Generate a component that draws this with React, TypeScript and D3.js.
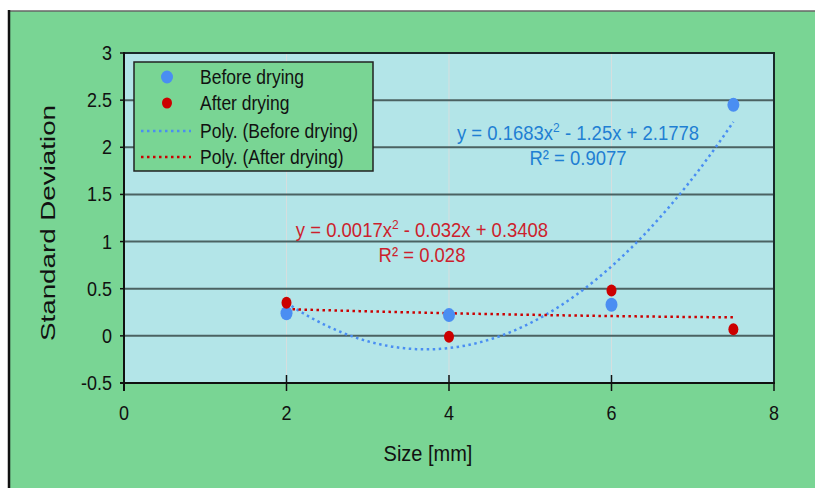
import React, { useEffect, useRef } from 'react';
import * as d3 from 'd3';

const sizes = [2, 4, 6, 7.5];
const beforeDrying = [0.24, 0.22, 0.33, 2.45];
const afterDrying = [0.35, -0.01, 0.48, 0.07];
const beforeCoef = [0.1683, -1.25, 2.1778];
const afterCoef = [0.0017, -0.032, 0.3408];
const xTicks = [0, 2, 4, 6, 8];
const yTicks = [-0.5, 0, 0.5, 1, 1.5, 2, 2.5, 3];
const legendLabels = ['Before drying', 'After drying', 'Poly. (Before drying)', 'Poly. (After drying)'];

const W = 815;
const H = 488;
const green = '#79d594';
const cyan = '#b3e5e8';
const blue = '#4a8ef2';
const red = '#cc0000';
const font = 'Liberation Sans, Arial, sans-serif';
const stretch = 1.12; // text in the picture looks a bit taller than wide

export default function App() {
  const ref = useRef<SVGSVGElement>(null);

  useEffect(() => {
    const svg = d3.select(ref.current);
    svg.selectAll('*').remove();

    const left = 124, right = 774, top = 53, bottom = 383;
    const x = d3.scaleLinear().domain([0, 8]).range([left, right]);
    const y = d3.scaleLinear().domain([-0.5, 3]).range([bottom, top]);
    const at = (px: number, py: number) => `translate(${px},${py}) scale(1,${stretch})`;

    // outer frame
    svg.append('rect').attr('x', 9).attr('y', 11).attr('width', W).attr('height', H).attr('fill', green);
    svg.append('line').attr('x1', 9).attr('x2', W).attr('y1', 11).attr('y2', 11)
      .attr('stroke', '#666').attr('stroke-width', 1.5);
    svg.append('line').attr('x1', 9).attr('x2', 9).attr('y1', 10).attr('y2', H)
      .attr('stroke', '#111').attr('stroke-width', 2.5);

    // plot area
    svg.append('rect').attr('x', left).attr('y', top).attr('width', right - left).attr('height', bottom - top)
      .attr('fill', cyan);

    // vertical grid
    svg.append('g').selectAll('line').data(xTicks.slice(1, -1)).join('line')
      .attr('x1', d => x(d)).attr('x2', d => x(d)).attr('y1', top).attr('y2', bottom)
      .attr('stroke', '#d6dede').attr('stroke-width', 1);

    // horizontal grid
    svg.append('g').selectAll('line').data(yTicks.slice(1, -1)).join('line')
      .attr('x1', left).attr('x2', right).attr('y1', d => y(d)).attr('y2', d => y(d))
      .attr('stroke', '#4b6262').attr('stroke-width', 2);

    // border
    svg.append('rect').attr('x', left).attr('y', top).attr('width', right - left).attr('height', bottom - top)
      .attr('fill', 'none').attr('stroke', '#1a2a2a').attr('stroke-width', 2);

    // y axis ticks and labels
    const yAx = svg.append('g');
    yAx.selectAll('line').data(yTicks).join('line')
      .attr('x1', left - 4).attr('x2', left).attr('y1', d => y(d)).attr('y2', d => y(d))
      .attr('stroke', '#111').attr('stroke-width', 1.5);
    yAx.selectAll('text').data(yTicks).join('text')
      .attr('transform', d => at(112, y(d) + 7)).attr('text-anchor', 'end')
      .attr('font-family', font).attr('font-size', 18).attr('fill', '#111')
      .text(d => String(d));
    svg.append('line').attr('x1', left).attr('x2', left).attr('y1', top - 1).attr('y2', bottom + 8)
      .attr('stroke', '#111').attr('stroke-width', 2);

    // x axis ticks and labels
    const xAx = svg.append('g');
    xAx.selectAll('line').data(xTicks).join('line')
      .attr('x1', d => x(d)).attr('x2', d => x(d))
      .attr('y1', (d, i) => (i === 0 || i === xTicks.length - 1 ? bottom : bottom - 8)).attr('y2', bottom + 8)
      .attr('stroke', '#111').attr('stroke-width', 1.5);
    xAx.selectAll('text').data(xTicks).join('text')
      .attr('transform', d => at(x(d), 420)).attr('text-anchor', 'middle')
      .attr('font-family', font).attr('font-size', 18).attr('fill', '#111')
      .text(d => String(d));
    svg.append('line').attr('x1', left - 4).attr('x2', right + 1).attr('y1', bottom).attr('y2', bottom)
      .attr('stroke', '#111').attr('stroke-width', 2);

    // axis titles
    svg.append('text').attr('transform', `translate(55,223) rotate(-90)`)
      .attr('text-anchor', 'middle').attr('font-family', font).attr('font-size', 21).attr('fill', '#111')
      .attr('textLength', 236).attr('lengthAdjust', 'spacingAndGlyphs')
      .text('Standard Deviation');
    svg.append('text').attr('transform', at(428, 461)).attr('text-anchor', 'middle')
      .attr('font-family', font).attr('font-size', 20).attr('fill', '#111')
      .text('Size [mm]');

    // trendlines
    const poly = (c: number[]) => (t: number) => c[0] * t * t + c[1] * t + c[2];
    const xs = d3.range(sizes[0], sizes[sizes.length - 1] + 0.001, 0.05);
    const line = d3.line<number>().x(d => x(d));
    const pb = poly(beforeCoef);
    const pa = poly(afterCoef);
    svg.append('path').attr('d', line.y(d => y(pb(d)))(xs))
      .attr('fill', 'none').attr('stroke', blue).attr('stroke-width', 2.5).attr('stroke-dasharray', '2.5 3.5');
    svg.append('path').attr('d', line.y(d => y(pa(d)))(xs))
      .attr('fill', 'none').attr('stroke', red).attr('stroke-width', 2.5).attr('stroke-dasharray', '2.5 3.5');

    // points
    svg.append('g').selectAll('ellipse').data(sizes).join('ellipse')
      .attr('cx', d => x(d)).attr('cy', (d, i) => y(beforeDrying[i]))
      .attr('rx', 6).attr('ry', 7).attr('fill', blue);
    svg.append('g').selectAll('ellipse').data(sizes).join('ellipse')
      .attr('cx', d => x(d)).attr('cy', (d, i) => y(afterDrying[i]))
      .attr('rx', 5).attr('ry', 6).attr('fill', red);

    // equations
    const eq = (cx: number, by: number, color: string, c: number[], r2: string) => {
      const fmt = (v: number) => String(Math.abs(v));
      const t = svg.append('text').attr('transform', at(cx, by)).attr('text-anchor', 'middle')
        .attr('font-family', font).attr('font-size', 18.5).attr('fill', color);
      t.append('tspan').text(`y = ${fmt(c[0])}x`);
      t.append('tspan').attr('font-size', 12).attr('dy', -7).text('2');
      t.append('tspan').attr('dy', 7).text(` ${c[1] < 0 ? '-' : '+'} ${fmt(c[1])}x ${c[2] < 0 ? '-' : '+'} ${fmt(c[2])}`);
      svg.append('text').attr('transform', at(cx, by + 25)).attr('text-anchor', 'middle')
        .attr('font-family', font).attr('font-size', 18.5).attr('fill', color)
        .text(`R² = ${r2}`);
    };
    eq(578, 140, '#1f7fd3', beforeCoef, '0.9077');
    eq(422, 237, '#cc1f2d', afterCoef, '0.028');

    // legend
    const lg = svg.append('g');
    lg.append('rect').attr('x', 134).attr('y', 62).attr('width', 239).attr('height', 109)
      .attr('fill', green).attr('stroke', '#222').attr('stroke-width', 1.5);
    const rows = [77, 103, 131, 157];
    lg.selectAll('text').data(legendLabels).join('text')
      .attr('transform', (d, i) => at(200, rows[i] + 6.5)).attr('font-family', font).attr('font-size', 17.5)
      .attr('fill', '#111').text(d => d);
    lg.append('ellipse').attr('cx', 167).attr('cy', rows[0]).attr('rx', 6).attr('ry', 6.5).attr('fill', blue);
    lg.append('ellipse').attr('cx', 167).attr('cy', rows[1]).attr('rx', 5).attr('ry', 5.5).attr('fill', red);
    lg.append('line').attr('x1', 141).attr('x2', 191).attr('y1', rows[2]).attr('y2', rows[2])
      .attr('stroke', blue).attr('stroke-width', 2.5).attr('stroke-dasharray', '2.5 3.5');
    lg.append('line').attr('x1', 141).attr('x2', 191).attr('y1', rows[3]).attr('y2', rows[3])
      .attr('stroke', red).attr('stroke-width', 2.5).attr('stroke-dasharray', '2.5 3.5');
  }, []);

  return (
    <svg ref={ref} width={W} height={H}
      style={{ position: 'absolute', left: 0, top: 0, background: '#fff' }} />
  );
}
